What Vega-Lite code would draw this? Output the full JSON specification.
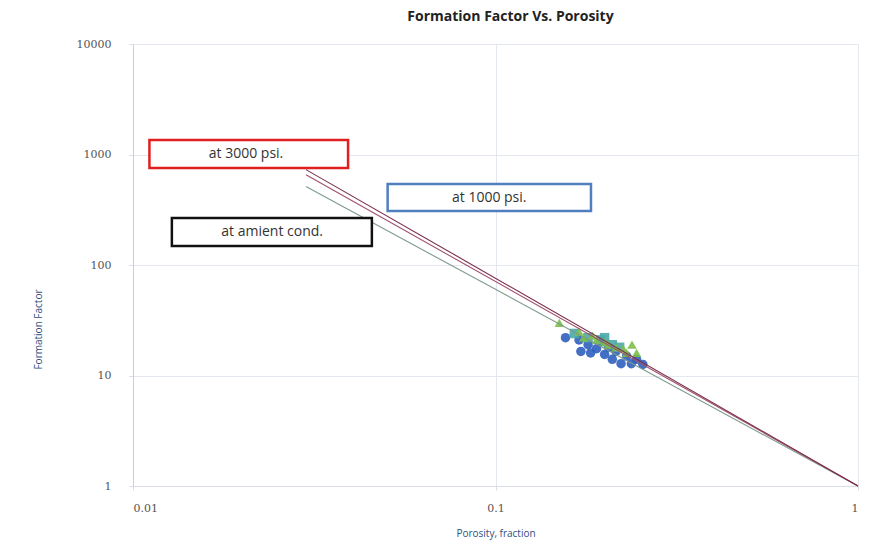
{
  "$schema": "https://vega.github.io/schema/vega-lite/v6.json",
  "autosize": "none",
  "width": 725,
  "height": 442,
  "padding": {"left": 133, "top": 44, "right": 23, "bottom": 70},
  "background": "white",
  "title": {"text": "Formation Factor Vs. Porosity", "font": "Open Sans", "fontSize": 14, "fontWeight": "bold", "color": "#222222", "offset": 14, "dx": 15},
  "config": {"view": {"stroke": null}},
  "datasets": {
    "points": [
      {"phi": 0.156, "F": 22, "series": "ambient"},
      {"phi": 0.17, "F": 21, "series": "ambient"},
      {"phi": 0.172, "F": 16.5, "series": "ambient"},
      {"phi": 0.18, "F": 19, "series": "ambient"},
      {"phi": 0.183, "F": 16, "series": "ambient"},
      {"phi": 0.19, "F": 17.5, "series": "ambient"},
      {"phi": 0.195, "F": 20, "series": "ambient"},
      {"phi": 0.2, "F": 15.5, "series": "ambient"},
      {"phi": 0.205, "F": 18, "series": "ambient"},
      {"phi": 0.21, "F": 14, "series": "ambient"},
      {"phi": 0.215, "F": 16.5, "series": "ambient"},
      {"phi": 0.222, "F": 12.8, "series": "ambient"},
      {"phi": 0.23, "F": 15, "series": "ambient"},
      {"phi": 0.237, "F": 12.8, "series": "ambient"},
      {"phi": 0.245, "F": 14, "series": "ambient"},
      {"phi": 0.255, "F": 12.6, "series": "ambient"},
      {"phi": 0.165, "F": 24, "series": "1000 psi"},
      {"phi": 0.18, "F": 22, "series": "1000 psi"},
      {"phi": 0.195, "F": 21, "series": "1000 psi"},
      {"phi": 0.2, "F": 22, "series": "1000 psi"},
      {"phi": 0.21, "F": 19, "series": "1000 psi"},
      {"phi": 0.22, "F": 18, "series": "1000 psi"},
      {"phi": 0.15, "F": 30, "series": "3000 psi"},
      {"phi": 0.17, "F": 25, "series": "3000 psi"},
      {"phi": 0.175, "F": 22, "series": "3000 psi"},
      {"phi": 0.185, "F": 23, "series": "3000 psi"},
      {"phi": 0.19, "F": 21, "series": "3000 psi"},
      {"phi": 0.2, "F": 20, "series": "3000 psi"},
      {"phi": 0.205, "F": 19, "series": "3000 psi"},
      {"phi": 0.215, "F": 18, "series": "3000 psi"},
      {"phi": 0.225, "F": 17.5, "series": "3000 psi"},
      {"phi": 0.23, "F": 16, "series": "3000 psi"},
      {"phi": 0.238, "F": 19, "series": "3000 psi"},
      {"phi": 0.245, "F": 16, "series": "3000 psi"}
    ],
    "lines": [
      {"phi": 0.03, "F": 513, "series": "fit ambient"},
      {"phi": 1, "F": 1, "series": "fit ambient"},
      {"phi": 0.03, "F": 657, "series": "fit 1000"},
      {"phi": 1, "F": 1, "series": "fit 1000"},
      {"phi": 0.03, "F": 730, "series": "fit 3000"},
      {"phi": 1, "F": 1, "series": "fit 3000"}
    ],
    "boxes": [
      {"label": "at 3000 psi.", "x1": 0.0111, "x2": 0.0392, "y1": 755, "y2": 1352, "xm": 0.0205, "ym": 1011},
      {"label": "at 1000 psi.", "x1": 0.0504, "x2": 0.1834, "y1": 308, "y2": 541, "xm": 0.0961, "ym": 408},
      {"label": "at amient cond.", "x1": 0.0128, "x2": 0.0456, "y1": 148.6, "y2": 266, "xm": 0.0242, "ym": 199}
    ]
  },
  "layer": [
    {
      "data": {"name": "points"},
      "mark": {"type": "point", "filled": true, "opacity": 0.9},
      "encoding": {
        "x": {"field": "phi", "type": "quantitative",
          "scale": {"type": "log", "domain": [0.01, 1]},
          "axis": {"title": "Porosity, fraction", "values": [0.01, 0.1, 1], "format": "~g",
            "labelFont": "DejaVu Serif", "labelFontSize": 11, "labelColor": "#555555", "labelPadding": 12,
            "titleFont": "Open Sans", "titleFontSize": 10, "titleFontWeight": "normal", "titleColor": "#2f4f7f", "titlePadding": 15,
            "grid": true, "gridColor": "#e3e7ee", "domainColor": "#d8dde6", "tickColor": "#d8dde6", "tickSize": 4}},
        "y": {"field": "F", "type": "quantitative",
          "scale": {"type": "log", "domain": [1, 10000]},
          "axis": {"title": "Formation Factor", "values": [1, 10, 100, 1000, 10000], "format": "~g",
            "labelFont": "DejaVu Serif", "labelFontSize": 11, "labelColor": "#555555", "labelPadding": 18,
            "titleFont": "Open Sans", "titleFontSize": 10, "titleFontWeight": "normal", "titleColor": "#2f4f7f", "titleX": -90, "titleY": 285,
            "grid": true, "gridColor": "#e3e7ee", "domainColor": "#c8d0dc", "tickColor": "#d8dde6", "tickSize": 4}},
        "color": {"field": "series", "type": "nominal",
          "scale": {"domain": ["ambient", "1000 psi", "3000 psi", "fit ambient", "fit 1000", "fit 3000"],
                    "range": ["#2f5fbf", "#4aa8a8", "#7cbf4a", "#7f9a8c", "#a0506e", "#7a2e4e"]},
          "legend": null},
        "shape": {"field": "series", "type": "nominal",
          "scale": {"domain": ["ambient", "1000 psi", "3000 psi"], "range": ["circle", "square", "triangle-up"]},
          "legend": null},
        "size": {"value": 90}
      }
    },
    {
      "data": {"name": "lines"},
      "mark": {"type": "line", "strokeWidth": 1.1},
      "encoding": {
        "x": {"field": "phi", "type": "quantitative"},
        "y": {"field": "F", "type": "quantitative"},
        "color": {"field": "series", "type": "nominal", "legend": null},
        "detail": {"field": "series"}
      }
    },
    {
      "data": {"name": "boxes"},
      "mark": {"type": "rect", "fill": "white", "strokeWidth": 2.5},
      "encoding": {
        "x": {"field": "x1", "type": "quantitative"},
        "x2": {"field": "x2"},
        "y": {"field": "y1", "type": "quantitative"},
        "y2": {"field": "y2"},
        "stroke": {"field": "label", "type": "nominal",
          "scale": {"domain": ["at 3000 psi.", "at 1000 psi.", "at amient cond."], "range": ["#e02020", "#4f7fbf", "#111111"]},
          "legend": null}
      }
    },
    {
      "data": {"name": "boxes"},
      "mark": {"type": "text", "font": "Open Sans", "fontSize": 14, "color": "#333333"},
      "encoding": {
        "x": {"field": "xm", "type": "quantitative"},
        "y": {"field": "ym", "type": "quantitative"},
        "text": {"field": "label"}
      }
    }
  ]
}
